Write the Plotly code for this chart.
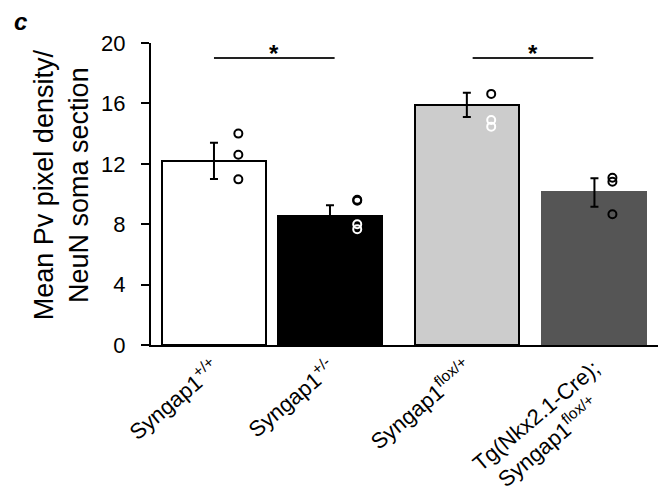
import plotly.graph_objects as go

# ---- data ----
categories = [
    "Syngap1<sup>+/+</sup>",
    "Syngap1<sup>+/-</sup>",
    "Syngap1<sup>flox/+</sup>",
    "Tg(Nkx2.1-Cre);<br>Syngap1<sup>flox/+</sup>\u00a0\u00a0\u00a0\u00a0",
]
means = [12.2, 8.55, 15.9, 10.1]
sem = [1.2, 0.7, 0.8, 0.94]
points = [
    [14.0, 12.6, 10.97],
    [9.62, 9.56, 8.0, 7.66],
    [16.63, 14.9, 14.46],
    [11.08, 10.81, 8.66],
]
sig_pairs = [(0, 1), (2, 3)]
sig_level = 19.0
y_ticks = [0, 4, 8, 12, 16, 20]

# ---- layout / style ----
bar_pos = [0, 1, 2.18, 3.28]
bar_width = 0.897
pt_offset = [0.21, 0.235, 0.21, 0.155]
bar_fill = ["#ffffff", "#000000", "#cccccc", "#555555"]
bar_edge = ["#000000", "#000000", "#000000", "#555555"]
pt_colors = [
    ["#000000"] * 3,
    ["#000000", "#000000", "#ffffff", "#ffffff"],
    ["#000000", "#ffffff", "#ffffff"],
    ["#000000"] * 3,
]
FONT = "Liberation Sans, Arial, sans-serif"

fig = go.Figure()
fig.add_trace(go.Bar(
    x=bar_pos, y=means, width=bar_width,
    marker=dict(color=bar_fill, line=dict(color=bar_edge, width=2)),
    error_y=dict(type="data", array=sem, color="#000000", thickness=2, width=4),
    showlegend=False, hoverinfo="skip",
))
for i, vals in enumerate(points):
    fig.add_trace(go.Scatter(
        x=[bar_pos[i] + pt_offset[i]] * len(vals), y=vals, mode="markers",
        marker=dict(symbol="circle-open", size=8, color=pt_colors[i],
                    line=dict(width=2, color=pt_colors[i])),
        showlegend=False, hoverinfo="skip",
    ))

half = 0.52
for a, b in sig_pairs:
    mid = (bar_pos[a] + bar_pos[b]) / 2 + 0.02
    fig.add_shape(type="line", x0=mid - half, x1=mid + half, y0=sig_level, y1=sig_level,
                  xref="x", yref="y", line=dict(color="#222222", width=2))
    fig.add_annotation(x=mid, y=sig_level, xref="x", yref="y", text="<b>*</b>",
                       showarrow=False, yanchor="bottom", yshift=-11,
                       font=dict(family=FONT, size=24, color="#000000"))

fig.add_annotation(x=-0.175, y=0.53, xref="paper", yref="paper",
                   text="Mean Pv pixel density/<br>NeuN soma section",
                   textangle=-90, showarrow=False, xanchor="center", yanchor="middle",
                   font=dict(family=FONT, size=27, color="#000000"))
fig.add_annotation(x=-0.275, y=1.07, xref="paper", yref="paper",
                   text="<b><i>c</i></b>", showarrow=False,
                   xanchor="left", yanchor="middle",
                   font=dict(family=FONT, size=24, color="#000000"))

fig.update_layout(
    width=658, height=498,
    margin=dict(l=151, r=0, t=43, b=153),
    plot_bgcolor="#ffffff", paper_bgcolor="#ffffff",
    font=dict(family=FONT, color="#000000"),
    bargap=0,
    xaxis=dict(range=[-0.543, 3.828], tickvals=bar_pos, ticktext=categories,
               tickangle=-40, showline=True, linecolor="#000000", linewidth=2,
               ticks="", showgrid=False, zeroline=False, automargin=False,
               tickfont=dict(family=FONT, size=22, color="#000000")),
    yaxis=dict(range=[0, 20], tickvals=y_ticks, showline=True, linecolor="#000000",
               linewidth=2, ticks="outside", ticklen=8, tickwidth=2, tickcolor="#000000",
               showgrid=False, zeroline=False, ticklabelstandoff=11, automargin=False,
               tickfont=dict(family=FONT, size=22, color="#000000")),
)
fig.write_html("out.html", config={"displayModeBar": False},
               post_script="document.body.style.margin='0';")
